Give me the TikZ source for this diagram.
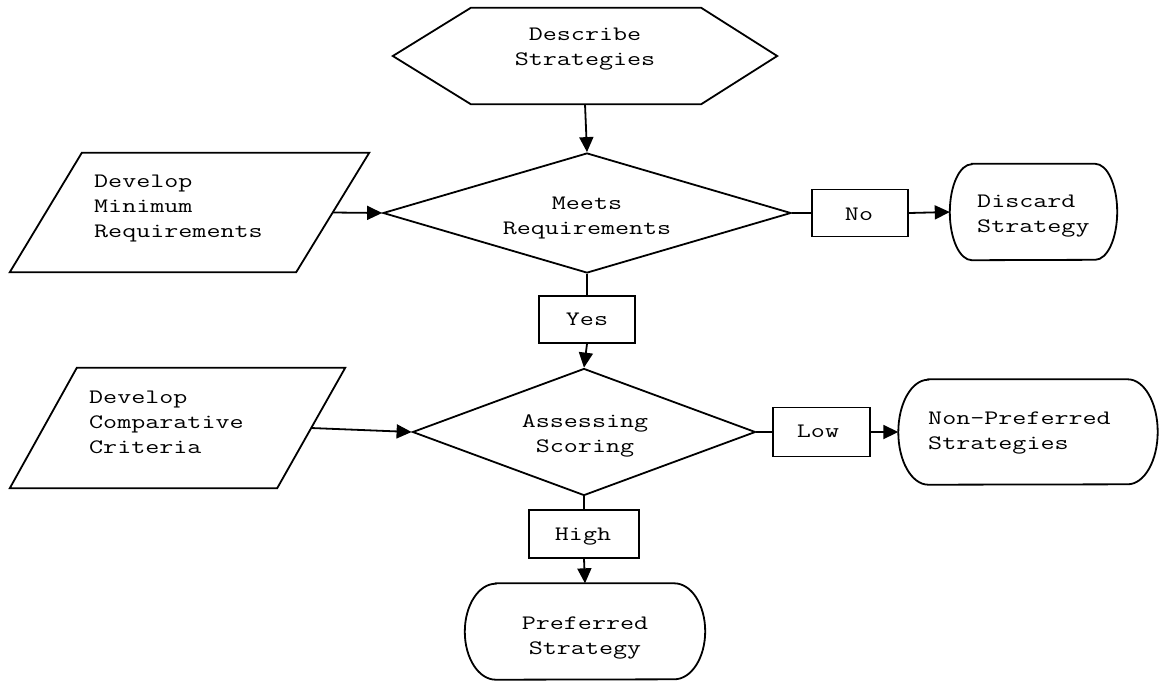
\documentclass[tikz,border=0pt]{standalone}
\usepackage{fontspec}
\usepackage{graphicx}
\usetikzlibrary{shapes.geometric,arrows.meta,calc}
\newcommand\lblfont{\fontsize{20.5}{25}\selectfont\ttfamily}
\newcommand\sx[1]{\scalebox{1.33}[1.0]{#1}}
\tikzset{
  ln/.style={line width=1.8pt, line join=miter},
  arr/.style={ln, -{Triangle[length=15pt,width=14pt]}},
  frame/.style={inner sep=0pt, draw=none, minimum width=#1},
  boxlbl/.style={ln, draw, fill=white, inner sep=0pt},
  dia/.style={ln, draw, shape=diamond, inner sep=0pt},
  txt/.style={inner sep=0pt, font=\lblfont},
  txtc/.style={txt, align=center, anchor=base},
  txtl/.style={txt, align=left, anchor=base west},
}
\begin{document}
\begin{tikzpicture}[x=1pt,y=-1pt]
\useasboundingbox (0,0) rectangle (1159,681);

% hexagon
\node[frame=384, minimum height=96] (hex) at (585,56) {};
\draw[ln] (hex.west) -- ($(hex.north west)+(78,0)$) -- ($(hex.north east)+(-76,0)$)
  -- (hex.east) -- ($(hex.south east)+(-76,0)$) -- ($(hex.south west)+(78,0)$) -- cycle;
\node[txtc] (hext) at (585,65) {\sx{Describe}\\\sx{Strategies}};

% decision 1
\node[dia, minimum width=408, minimum height=120] (meets) at (587,213) {};
\node[txtc] (meetst) at (587,234) {\sx{Meets}\\\sx{Requirements}};

% parallelogram 1
\node[frame=359, minimum height=119] (devmin) at (189.5,212.5) {};
\draw[ln] ($(devmin.north west)+(72,0)$) -- (devmin.north east)
  -- ($(devmin.south east)+(-73,0)$) -- (devmin.south west) -- cycle;
\coordinate (devmin-r) at (332.5,212.5);
\node[txtl] (devmint) at (94,237) {\sx{Develop}\\\sx{Minimum}\\\sx{Requirements}};

% No box and discard
\node[boxlbl, minimum width=96, minimum height=47] (no) at (860,213) {};
\node[txtc] (not) at (859,220) {\sx{No}};
\node[frame=167, minimum height=96] (disc) at (1033.5,212) {};
\draw[ln] ($(disc.north west)+(22,0)$) -- ($(disc.north east)+(-22,0)$)
  arc[start angle=90, end angle=-90, x radius=22pt, y radius=48pt]
  -- ($(disc.south west)+(22,0)$)
  arc[start angle=270, end angle=90, x radius=22pt, y radius=48pt] -- cycle;
\node[txtl] (disct) at (977,232) {\sx{Discard}\\\sx{Strategy}};

% Yes box
\node[boxlbl, minimum width=96, minimum height=47] (yes) at (587,319.5) {};
\node[txtc] (yest) at (587,325) {\sx{Yes}};

% decision 2
\node[dia, minimum width=343, minimum height=127] (assess) at (584,432) {};
\node[txtc] (assesst) at (585,452) {\sx{Assessing}\\\sx{Scoring}};

% parallelogram 2
\node[frame=335, minimum height=120] (devcomp) at (177.5,428) {};
\draw[ln] ($(devcomp.north west)+(67,0)$) -- (devcomp.north east)
  -- ($(devcomp.south east)+(-68,0)$) -- (devcomp.south west) -- cycle;
\coordinate (devcomp-r) at (311,428);
\node[txtl] (devcompt) at (89,453) {\sx{Develop}\\\sx{Comparative}\\\sx{Criteria}};

% Low box and non-preferred
\node[boxlbl, minimum width=97, minimum height=49] (low) at (821.5,432) {};
\node[txtc] (lowt) at (818,437) {\sx{Low}};
\node[frame=259, minimum height=105] (nonpref) at (1028,432) {};
\draw[ln] ($(nonpref.north west)+(30,0)$) -- ($(nonpref.north east)+(-30,0)$)
  arc[start angle=90, end angle=-90, x radius=30pt, y radius=52.5pt]
  -- ($(nonpref.south west)+(30,0)$)
  arc[start angle=270, end angle=90, x radius=30pt, y radius=52.5pt] -- cycle;
\node[txtl] (nonpreft) at (928,449) {\sx{Non-Preferred}\\\sx{Strategies}};

% High box and preferred
\node[boxlbl, minimum width=110, minimum height=48] (high) at (584,534) {};
\node[txtc] (hight) at (583,540) {\sx{High}};
\node[frame=240, minimum height=96] (pref) at (585,631.5) {};
\draw[ln] ($(pref.north west)+(31,0)$) -- ($(pref.north east)+(-31,0)$)
  arc[start angle=90, end angle=-90, x radius=31pt, y radius=48pt]
  -- ($(pref.south west)+(31,0)$)
  arc[start angle=270, end angle=90, x radius=31pt, y radius=48pt] -- cycle;
\node[txtc] (preft) at (585,654) {\sx{Preferred}\\\sx{Strategy}};

% connectors
\draw[arr] (hex.south) -- (meets.north);
\draw[arr] (devmin-r) -- (meets.west);
\draw[ln] (meets.east) -- (no.west);
\draw[arr] (no.east) -- (disc.west);
\draw[ln] (meets.south) -- (yes.north);
\draw[arr] (yes.south) -- (assess.north);
\draw[arr] (devcomp-r) -- (assess.west);
\draw[ln] (assess.east) -- (low.west);
\draw[arr] (low.east) -- (nonpref.west);
\draw[ln] (assess.south) -- (high.north);
\draw[arr] (high.south) -- (pref.north);
\end{tikzpicture}
\end{document}
